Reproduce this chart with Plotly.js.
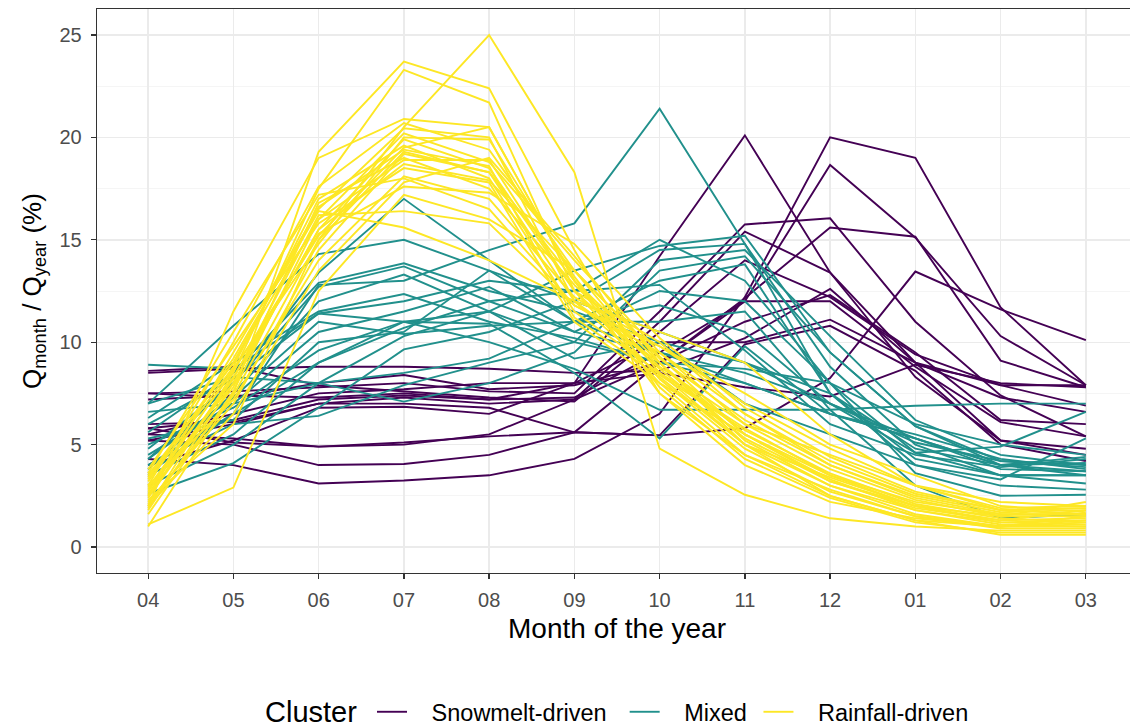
<!DOCTYPE html>
<html>
<head>
<meta charset="utf-8">
<script src="https://cdn.plot.ly/plotly-3.0.1.min.js"></script>
<style>html,body{margin:0;padding:0;overflow:hidden;background:#fff;}</style>
</head>
<body>
<div id="chart"></div>
<script>
const months = ["04","05","06","07","08","09","10","11","12","01","02","03"];
const clusterNames = ["Snowmelt-driven","Mixed","Rainfall-driven"];
const clusterColors = ["#440154","#21908C","#FDE725"];
const legendTitle = "Cluster";

const snowmelt = [
  [5.8, 6.2, 7.2, 7.4, 7.2, 8.0, 14.2, 20.1, 13.4, 8.3, 5.2, 4.8],
  [4.3, 4.0, 3.1, 3.25, 3.5, 4.3, 6.5, 12.2, 20.0, 19.0, 11.7, 7.9],
  [5.2, 5.0, 4.0, 4.05, 4.5, 5.6, 9.0, 12.0, 18.65, 15.1, 10.3, 7.9],
  [7.5, 7.6, 7.8, 8.0, 7.6, 7.5, 11.5, 15.75, 16.05, 11.0, 7.4, 5.4],
  [6.0, 6.1, 7.0, 7.3, 7.0, 7.2, 9.0, 12.15, 15.6, 15.15, 9.1, 7.8],
  [5.5, 5.3, 4.9, 5.0, 5.5, 7.2, 11.0, 15.4, 13.4, 9.0, 5.2, 4.5],
  [5.8, 5.1, 4.9, 5.1, 5.4, 5.6, 5.45, 5.8, 8.25, 13.45, 11.6, 10.1],
  [8.5, 8.7, 8.8, 8.8, 8.7, 8.5, 8.6, 10.2, 12.6, 9.0, 7.9, 7.9],
  [7.5, 7.3, 8.0, 8.4, 7.7, 7.9, 9.0, 11.0, 12.3, 9.5, 6.2, 6.0],
  [7.2, 7.4, 7.3, 7.5, 7.2, 7.3, 9.5, 12.0, 12.0, 8.8, 6.1, 5.4],
  [5.5, 6.5, 7.5, 7.7, 8.0, 8.0, 10.0, 10.0, 11.1, 9.0, 7.3, 6.6],
  [4.0, 5.2, 6.8, 6.85, 6.5, 8.0, 8.5, 7.8, 7.35, 8.9, 8.0, 7.8],
  [5.2, 6.0, 7.0, 7.0, 6.8, 5.6, 5.45, 9.9, 10.8, 8.6, 5.0, 4.2],
  [8.6, 8.8, 7.9, 7.6, 7.3, 7.1, 10.5, 14.0, 12.2, 9.4, 7.9, 6.9]
];

const mixed = [
  [4.0, 6.5, 12.8, 13.0, 14.5, 15.8, 21.4, 14.8, 7.5, 4.0, 3.0, 2.8],
  [4.3, 8.0, 13.4, 17.0, 14.0, 11.0, 9.5, 8.0, 6.5, 5.5, 4.3, 3.8],
  [7.0, 10.8, 14.3, 15.0, 13.5, 12.0, 10.5, 9.0, 7.0, 5.3, 4.0, 3.5],
  [5.6, 8.5, 12.9, 13.85, 12.5, 11.5, 10.0, 9.0, 7.5, 4.8, 4.0, 4.1],
  [4.8, 8.0, 12.7, 13.7, 12.0, 10.5, 9.5, 8.5, 7.0, 5.1, 4.2, 3.9],
  [3.8, 7.5, 12.0, 13.3, 11.5, 10.0, 9.0, 8.7, 8.0, 6.0, 5.0, 4.5],
  [6.3, 9.0, 11.5, 12.35, 11.0, 10.2, 9.0, 8.0, 6.5, 5.3, 3.8, 3.7],
  [8.9, 8.7, 11.4, 12.0, 13.0, 12.5, 12.8, 9.6, 6.0, 4.5, 3.9, 4.3],
  [3.5, 5.5, 9.0, 10.7, 12.0, 12.5, 15.0, 13.0, 8.0, 4.6, 3.5, 3.1],
  [3.0, 5.0, 8.0, 10.3, 11.5, 13.5, 14.7, 15.2, 9.5, 5.9, 4.0, 3.7],
  [2.6, 4.1, 6.8, 9.65, 10.5, 12.0, 14.5, 14.8, 8.8, 5.0, 3.5, 3.5],
  [4.0, 6.0, 6.4, 7.9, 9.0, 10.0, 14.0, 14.5, 10.3, 6.2, 4.5, 4.0],
  [6.6, 7.0, 8.0, 7.1, 8.0, 9.5, 13.5, 14.2, 9.5, 5.9, 4.2, 4.0],
  [5.3, 6.2, 10.0, 10.5, 13.5, 11.0, 13.0, 13.8, 7.5, 4.3, 3.5, 3.5],
  [4.5, 7.0, 10.5, 11.5, 12.7, 10.5, 12.5, 12.0, 8.0, 3.6, 2.5, 2.55],
  [3.6, 6.5, 9.0, 11.0, 10.9, 8.5, 5.3, 9.8, 6.5, 5.3, 4.0, 4.4],
  [5.0, 6.8, 9.6, 11.0, 10.0, 8.7, 6.7, 6.7, 6.7, 6.9, 7.0, 7.0],
  [7.0, 8.3, 8.0, 8.5, 9.2, 11.0, 11.8, 10.5, 7.0, 4.6, 4.9, 6.6],
  [4.3, 7.3, 11.0, 10.4, 10.8, 11.0, 11.0, 11.5, 6.7, 3.0, 1.4, 1.6],
  [6.0, 8.2, 11.4, 11.0, 11.5, 9.2, 10.0, 7.0, 5.5, 4.0, 3.3, 5.3]
];

const rainfall = [
  [2.3, 6.0, 15.0, 20.5, 25.0, 18.3, 4.8, 2.55, 1.4, 1.0, 0.8, 0.8],
  [1.0, 7.5, 19.3, 23.7, 22.4, 14.5, 7.5, 4.5, 2.5, 1.3, 0.6, 0.6],
  [1.9, 8.5, 17.5, 23.3, 21.7, 12.5, 8.0, 4.5, 2.8, 1.5, 0.9, 0.9],
  [2.0, 11.5, 19.0, 20.9, 20.5, 13.0, 7.5, 4.0, 2.2, 1.4, 1.0, 1.2],
  [3.0, 10.0, 17.6, 20.7, 19.4, 13.5, 8.5, 5.0, 2.5, 1.3, 1.0, 1.5],
  [2.5, 9.5, 16.5, 20.45, 20.0, 12.0, 9.0, 5.5, 3.5, 2.0, 1.2, 1.3],
  [3.5, 9.0, 16.0, 20.2, 18.8, 14.0, 9.5, 6.0, 3.8, 2.3, 1.5, 1.5],
  [2.8, 8.0, 15.5, 19.9, 18.5, 12.5, 10.0, 6.5, 4.0, 2.5, 1.7, 1.8],
  [3.2, 8.8, 17.0, 19.6, 18.0, 11.5, 8.5, 5.8, 3.5, 2.2, 1.6, 1.6],
  [2.2, 7.0, 14.5, 19.2, 18.3, 13.0, 9.0, 5.2, 3.0, 1.8, 1.2, 1.1],
  [2.6, 7.8, 16.8, 19.0, 17.5, 12.8, 8.8, 6.0, 4.5, 3.0, 1.9, 2.0],
  [3.8, 9.8, 15.8, 18.5, 17.8, 11.0, 8.0, 5.5, 3.2, 2.0, 1.5, 2.2],
  [3.0, 7.2, 14.0, 18.1, 17.0, 12.2, 9.8, 7.0, 4.8, 3.0, 2.2, 2.0],
  [1.1, 2.9, 12.5, 17.2, 16.0, 13.5, 9.3, 5.5, 3.3, 1.8, 1.1, 1.0],
  [2.4, 8.2, 16.2, 16.4, 15.8, 11.8, 9.8, 7.5, 5.0, 3.5, 2.0, 1.7],
  [3.3, 9.2, 16.4, 15.6, 14.0, 12.0, 10.5, 9.0, 5.5, 3.0, 1.8, 1.6],
  [2.0, 6.5, 13.5, 17.8, 19.0, 14.2, 9.0, 5.0, 3.0, 1.6, 1.0, 1.0],
  [2.9, 8.6, 15.2, 19.5, 20.5, 13.0, 8.2, 4.8, 2.7, 1.5, 1.0, 1.3],
  [1.6, 7.6, 16.0, 18.9, 18.9, 12.5, 8.7, 5.3, 3.2, 1.9, 1.3, 1.4],
  [3.6, 10.5, 17.2, 18.0, 16.5, 11.8, 9.5, 6.5, 4.2, 2.6, 1.8, 1.9],
  [2.1, 7.4, 15.0, 19.3, 18.3, 12.0, 8.4, 5.7, 3.6, 2.1, 1.4, 1.2],
  [2.7, 8.7, 14.8, 20.0, 19.9, 13.2, 7.8, 4.3, 2.4, 1.2, 0.7, 0.7],
  [1.8, 8.0, 15.5, 18.7, 17.9, 13.5, 9.2, 6.2, 4.0, 2.4, 1.6, 1.6],
  [3.4, 9.0, 16.6, 19.4, 18.6, 11.2, 8.3, 5.0, 3.4, 2.0, 1.3, 1.8],
  [2.5, 8.3, 15.3, 17.6, 17.3, 14.8, 10.2, 6.8, 4.4, 2.7, 1.8, 1.9]
];

const groups = [snowmelt, mixed, rainfall];
const nb = "\u00a0";
const trailing = [nb + nb, nb, ""];
const legendLabels = clusterNames.map((n, i) => nb + nb + nb + n + trailing[i]);
const traces = [];
groups.forEach((g, gi) => {
  g.forEach((vals, i) => {
    traces.push({
      type: "scatter", mode: "lines",
      x: months, y: vals,
      name: legendLabels[gi],
      legendgroup: clusterNames[gi],
      showlegend: i === 0,
      line: {color: clusterColors[gi], width: 1.9},
      hoverinfo: "skip"
    });
  });
});

const fontFam = "Liberation Sans, Arial, sans-serif";
const legendYPaper = (573 - 712) / 564;
const layout = {
  width: 1140, height: 728,
  margin: {l: 97, r: 3, t: 9, b: 155, autoexpand: false},
  paper_bgcolor: "#fff", plot_bgcolor: "#fff",
  font: {family: fontFam, color: "#000"},
  showlegend: true,
  xaxis: {
    type: "category",
    categoryorder: "array", categoryarray: months,
    range: [-0.6, 11.6],
    automargin: false,
    showgrid: true, gridcolor: "#EBEBEB", gridwidth: 1.4,
    showline: true, linecolor: "#333333", linewidth: 1.3, mirror: true,
    ticks: "outside", ticklen: 5, tickcolor: "#333333", tickwidth: 1.3,
    tickfont: {size: 20, color: "#4D4D4D", family: fontFam},
    ticklabelstandoff: 4,
    title: {text: "Month of the year", font: {size: 28, color: "#000", family: fontFam}, standoff: 8},
    zeroline: false, fixedrange: true
  },
  yaxis: {
    range: [-1.27, 26.27],
    automargin: false,
    tickvals: [0, 5, 10, 15, 20, 25],
    showgrid: true, gridcolor: "#EBEBEB", gridwidth: 1.4,
    minor: {tickvals: [2.5, 7.5, 12.5, 17.5, 22.5], showgrid: true, gridcolor: "#F3F3F3", gridwidth: 0.8, ticks: ""},
    showline: true, linecolor: "#333333", linewidth: 1.3, mirror: true,
    ticks: "outside", ticklen: 5, tickcolor: "#333333", tickwidth: 1.3,
    tickfont: {size: 20, color: "#4D4D4D", family: fontFam},
    ticklabelstandoff: 5,
    title: {text: "Q<sub>month</sub> / Q<sub>year</sub> (%)", font: {size: 26, color: "#000", family: fontFam}, standoff: 10},
    zeroline: false, fixedrange: true
  },
  legend: {
    orientation: "h",
    xref: "paper", x: (372 - 97) / 1040, xanchor: "left",
    yref: "paper", y: legendYPaper, yanchor: "middle",
    font: {size: 23.5, family: fontFam, color: "#000"},
    traceorder: "normal",
    bgcolor: "rgba(0,0,0,0)"
  },
  annotations: [{
    text: legendTitle,
    xref: "paper", x: (263 - 97) / 1040, xanchor: "left",
    yref: "paper", y: legendYPaper, yanchor: "middle",
    showarrow: false,
    font: {size: 29, family: fontFam, color: "#000"}
  }]
};

Plotly.newPlot("chart", traces, layout, {displayModeBar: false, staticPlot: true});
</script>
</body>
</html>
